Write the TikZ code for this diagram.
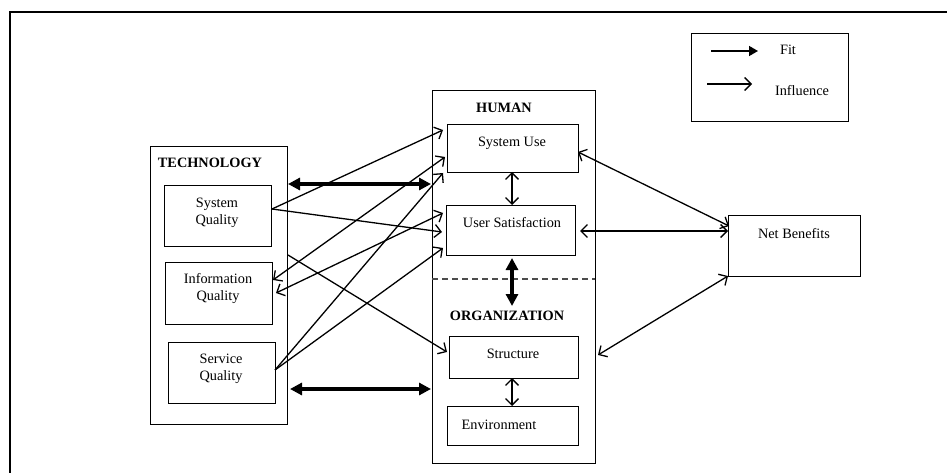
\documentclass[tikz,border=0pt]{standalone}
\usepackage{fontspec}
\setmainfont{Liberation Serif}
\usetikzlibrary{arrows.meta}
\begin{document}
\begin{tikzpicture}[x=1pt,y=-1pt,
  every node/.style={font=\fontsize{14.3}{17}\selectfont},
  box/.style={draw, line width=1.4pt, inner sep=0pt, anchor=north west},
  txt/.style={inner sep=0pt, align=center},
  head/.style={inner sep=0pt, font=\fontsize{14.3}{17}\selectfont\bfseries},
  infl/.style={line width=1.3pt, -{Straight Barb[length=6.5pt,width=13pt,line width=1.3pt]}},
  infl2/.style={line width=1.3pt, {Straight Barb[length=6.5pt,width=13pt,line width=1.3pt]}-{Straight Barb[length=6.5pt,width=13pt,line width=1.3pt]}},
  fit2/.style={line width=3.8pt, {Triangle[length=12pt,width=12pt]}-{Triangle[length=12pt,width=12pt]}},
]
\useasboundingbox (0,0) rectangle (947,473);

% outer frame (open to the right and bottom)
\draw[line width=2pt] (947,12) -- (10,12) -- (10,473);

% legend
\node[box, minimum width=157pt, minimum height=88pt] (legend) at (691,33) {};
\coordinate (fitA) at (711,51);
\coordinate (fitB) at (758,51);
\coordinate (infA) at (707,84);
\coordinate (infB) at (752,84);
\draw[line width=1.5pt, -{Triangle[length=9pt,width=10pt]}] (fitA) -- (fitB);
\draw[infl] (infA) -- (infB);
\node[txt] (fitT) at (788,50) {Fit};
\node[txt] (infT) at (802,91) {Influence};

% technology group
\node[box, minimum width=137pt, minimum height=278pt] (tech) at (150,146) {};
\node[head] (techT) at (210,163) {TECHNOLOGY};
\node[box, minimum width=107pt, minimum height=61pt] (sq) at (164,185) {};
\node[txt] (sqT) at (217,213) {System\\Quality};
\node[box, minimum width=107pt, minimum height=62pt] (iq) at (165,262) {};
\node[txt] (iqT) at (218,289) {Information\\Quality};
\node[box, minimum width=107pt, minimum height=61pt] (svq) at (168,342) {};
\node[txt] (svqT) at (221,369) {Service\\Quality};

% human / organization group
\node[box, minimum width=163pt, minimum height=373pt] (hum) at (432,90) {};
\node[head] (humT) at (504,108) {HUMAN};
\node[box, minimum width=131pt, minimum height=48pt] (su) at (447,124) {};
\node[txt] (suT) at (512,143) {System Use};
\node[box, minimum width=129pt, minimum height=50pt] (us) at (446,205) {};
\node[txt] (usT) at (512,223) {User Satisfaction};
\coordinate (dashL) at (432,279);
\coordinate (dashR) at (595,279);
\draw[line width=1.2pt, dash pattern=on 6pt off 4pt, black!70] (dashL) -- (dashR);
\node[head] (orgT) at (507,316) {ORGANIZATION};
\node[box, minimum width=129pt, minimum height=42pt] (st) at (449,336) {};
\node[txt] (stT) at (513,354) {Structure};
\node[box, minimum width=131pt, minimum height=39pt] (env) at (447,406) {};
\node[txt] (envT) at (499,425) {Environment};

% net benefits
\node[box, minimum width=132pt, minimum height=61pt] (nb) at (728,215) {};
\node[txt] (nbT) at (794,234) {Net Benefits};

% connector end points
\coordinate (sqOut) at (272,209);
\coordinate (iqA) at (273,280);
\coordinate (iqB) at (276,293);
\coordinate (svqOut) at (275,370);
\coordinate (techOut) at (288,255);
\coordinate (suIn1) at (443,130);
\coordinate (suIn2) at (445,157);
\coordinate (suIn3) at (443,173);
\coordinate (usIn1) at (443,213);
\coordinate (usIn2) at (442,232);
\coordinate (usIn3) at (443,248);
\coordinate (stIn) at (447,352);
\coordinate (fitT1) at (288,184);
\coordinate (fitH1) at (431,184);
\coordinate (fitT2) at (290,389);
\coordinate (fitH2) at (431,389);
\coordinate (suS) at (512,172);
\coordinate (usN) at (512,205);
\coordinate (usS) at (512,258);
\coordinate (orgN) at (512,306);
\coordinate (stS) at (512,378);
\coordinate (envN) at (512,406);
\coordinate (suE) at (578,152);
\coordinate (usE) at (580,231);
\coordinate (humE) at (598,355);
\coordinate (nbW1) at (729,226);
\coordinate (nbW2) at (728,231);
\coordinate (nbSW) at (728,276);

% fit connectors
\draw[fit2] (fitT1) -- (fitH1);
\draw[fit2] (fitT2) -- (fitH2);
\draw[fit2] (usS) -- (orgN);

% influence connectors from technology
\draw[infl] (sqOut) -- (suIn1);
\draw[infl] (sqOut) -- (usIn2);
\draw[infl] (techOut) -- (stIn);
\draw[infl2] (iqA) -- (suIn2);
\draw[infl2] (iqB) -- (usIn1);
\draw[infl] (svqOut) -- (suIn3);
\draw[infl] (svqOut) -- (usIn3);

% influence connectors inside and to net benefits
\draw[infl2] (suS) -- (usN);
\draw[infl2] (stS) -- (envN);
\draw[infl2] (suE) -- (nbW1);
\draw[infl2] (usE) -- (nbW2);
\draw[infl2] (nbSW) -- (humE);
\end{tikzpicture}
\end{document}
